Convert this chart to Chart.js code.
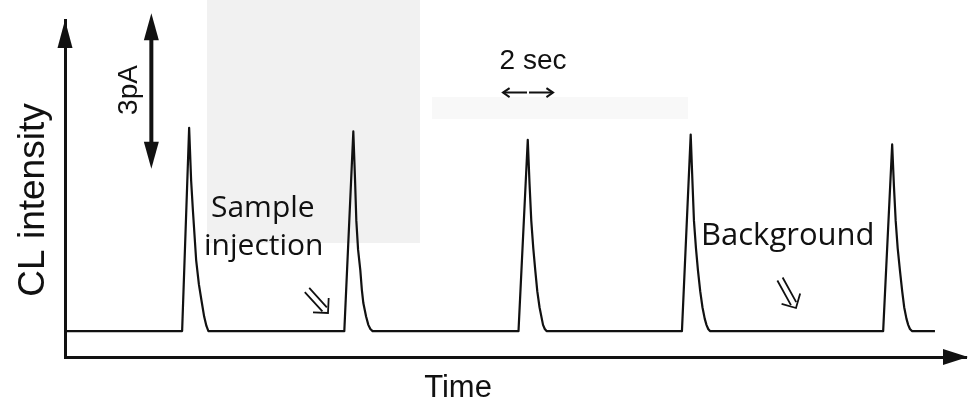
<!DOCTYPE html>
<html>
<head>
<meta charset="utf-8">
<script src="https://cdn.jsdelivr.net/npm/chart.js@4/dist/chart.umd.min.js"></script>
<style>
  html, body { margin: 0; padding: 0; background: #fff; }
  #wrap { width: 969px; height: 408px; position: relative; }
</style>
</head>
<body>
<div id="wrap"><canvas id="clChart"></canvas></div>
<script>
// Trace: time (sec) and CL intensity (pA)
const traceTime = [0.05, 4.68, 4.96, 5.04, 5.11, 5.24, 5.35, 5.45, 5.56, 5.65, 5.73,
  11.16, 11.52, 11.59, 11.64, 11.71, 11.80, 11.86, 11.92, 12.03, 12.12, 12.20, 12.29,
  18.12, 18.49, 18.56, 18.63, 18.71, 18.79, 18.87, 18.96, 19.05, 19.10, 19.17, 19.24,
  24.65, 25.00, 25.07, 25.13, 25.21, 25.29, 25.38, 25.47, 25.56, 25.63, 25.70, 25.77,
  32.69, 33.05, 33.12, 33.19, 33.27, 33.36, 33.45, 33.53, 33.62, 33.69, 33.76, 33.84, 34.76];
const traceCL = [0.5, 0.5, 4.42, 3.40, 2.83, 1.87, 1.40, 1.10, 0.78, 0.60, 0.5,
  0.5, 4.35, 3.40, 2.63, 2.07, 1.67, 1.30, 1.04, 0.78, 0.62, 0.54, 0.5,
  0.5, 4.19, 3.35, 2.63, 2.10, 1.67, 1.27, 0.96, 0.74, 0.62, 0.54, 0.5,
  0.5, 4.29, 3.38, 2.63, 2.10, 1.67, 1.27, 0.96, 0.74, 0.62, 0.54, 0.5,
  0.5, 4.10, 3.30, 2.63, 2.10, 1.67, 1.27, 0.96, 0.74, 0.62, 0.54, 0.5, 0.5];

// Scale markers (sec / pA)
const timeBar = [17.5, 19.5];       // "2 sec"
const currentBar = [3.63, 6.63];    // "3pA"
const currentBarTime = 3.45;
const timeBarLevel = 5.1;

// Text
const axisTitles = ['Time', 'CL intensity'];
const timeBarLabel = '2 sec';
const currentBarLabel = '3pA';
const sampleLabel = ['Sample', 'injection'];
const backgroundLabel = 'Background';

const INK = '#111';

function filledHead(ctx, tipX, tipY, dx, dy, len, half) {
  // dx,dy: unit vector pointing toward the tip
  const bx = tipX - dx * len, by = tipY - dy * len;
  ctx.beginPath();
  ctx.moveTo(tipX, tipY);
  ctx.lineTo(bx - dy * half, by + dx * half);
  ctx.lineTo(bx + dy * half, by - dx * half);
  ctx.closePath();
  ctx.fill();
}

function openHead(ctx, tipX, tipY, dx, dy, len, angle) {
  const a = Math.atan2(dy, dx) + Math.PI;
  ctx.beginPath();
  ctx.moveTo(tipX + Math.cos(a - angle) * len, tipY + Math.sin(a - angle) * len);
  ctx.lineTo(tipX, tipY);
  ctx.lineTo(tipX + Math.cos(a + angle) * len, tipY + Math.sin(a + angle) * len);
  ctx.stroke();
}

// Hollow double-shaft arrow, like the ⇘ marks in the figure
function doubleArrow(ctx, x1, y1, x2, y2) {
  const L = Math.hypot(x2 - x1, y2 - y1);
  const dx = (x2 - x1) / L, dy = (y2 - y1) / L;
  const nx = -dy * 3, ny = dx * 3;
  ctx.lineWidth = 1.8;
  ctx.beginPath();
  ctx.moveTo(x1 + nx, y1 + ny); ctx.lineTo(x2 - dx * 5 + nx, y2 - dy * 5 + ny);
  ctx.moveTo(x1 - nx, y1 - ny); ctx.lineTo(x2 - dx * 5 - nx, y2 - dy * 5 - ny);
  ctx.stroke();
  openHead(ctx, x2, y2, dx, dy, 15, Math.PI / 4);
}

// Scan shading behind the plot
const paperPlugin = {
  id: 'paper',
  beforeDraw(chart) {
    const ctx = chart.ctx;
    ctx.save();
    ctx.fillStyle = '#f1f1f1';
    ctx.fillRect(207, 0, 213, 243);
    ctx.fillStyle = '#f8f8f8';
    ctx.fillRect(432, 97, 256, 22);
    ctx.restore();
  },
};

// Axis arrows, scale bars and labels
const markupPlugin = {
  id: 'markup',
  afterDraw(chart) {
    const { ctx, chartArea } = chart;
    const x = chart.scales.x, y = chart.scales.y;
    ctx.save();
    ctx.fillStyle = INK;
    ctx.strokeStyle = INK;

    // axis arrowheads
    filledHead(ctx, chartArea.left, chartArea.top, 0, -1, 28, 7.5);
    filledHead(ctx, chartArea.right + 2, chartArea.bottom, 1, 0, 25, 8);

    // 3pA bar
    const bx = x.getPixelForValue(currentBarTime);
    const bTop = y.getPixelForValue(currentBar[1]);
    const bBot = y.getPixelForValue(currentBar[0]);
    ctx.lineWidth = 4;
    ctx.beginPath();
    ctx.moveTo(bx, bTop + 20);
    ctx.lineTo(bx, bBot - 20);
    ctx.stroke();
    filledHead(ctx, bx, bTop, 0, -1, 27, 7.5);
    filledHead(ctx, bx, bBot, 0, 1, 27, 7.5);

    ctx.save();
    ctx.translate(bx - 14, (bTop + bBot) / 2 - 1);
    ctx.rotate(-Math.PI / 2);
    ctx.font = '28px "Liberation Sans", Arial, sans-serif';
    ctx.textAlign = 'center';
    ctx.textBaseline = 'alphabetic';
    ctx.fillText(currentBarLabel, 0, 0);
    ctx.restore();

    // 2 sec bar
    const t0 = x.getPixelForValue(timeBar[0]);
    const t1 = x.getPixelForValue(timeBar[1]);
    const ty = y.getPixelForValue(timeBarLevel);
    const tm = (t0 + t1) / 2;
    ctx.lineWidth = 2;
    ctx.beginPath();
    ctx.moveTo(t0, ty); ctx.lineTo(tm - 1, ty);
    ctx.moveTo(tm + 1, ty); ctx.lineTo(t1, ty);
    ctx.stroke();
    openHead(ctx, t0, ty, -1, 0, 8, 0.6);
    openHead(ctx, t1, ty, 1, 0, 8, 0.6);
    ctx.font = '28px "Liberation Sans", Arial, sans-serif';
    ctx.textAlign = 'center';
    ctx.fillText(timeBarLabel, tm + 5, 69);

    // annotations
    ctx.font = '30px "Open Sans", "Noto Sans", sans-serif';
    ctx.textAlign = 'left';
    ctx.fillText(sampleLabel[0], 211, 217);
    ctx.fillText(sampleLabel[1], 204, 255);
    ctx.font = '31px "Open Sans", "Noto Sans", sans-serif';
    ctx.fillText(backgroundLabel, 701, 245);
    doubleArrow(ctx, 307, 290, 328, 313);
    doubleArrow(ctx, 780, 279, 796, 308);

    // axis titles
    ctx.font = '31px "Liberation Sans", Arial, sans-serif';
    ctx.textAlign = 'center';
    ctx.fillText(axisTitles[0], 458, 397);
    ctx.save();
    ctx.translate(44, 200);
    ctx.rotate(-Math.PI / 2);
    ctx.font = '37px "Liberation Sans", Arial, sans-serif';
    ctx.fillText(axisTitles[1], 0, 0);
    ctx.restore();

    ctx.restore();
  },
};

function initCLChart() {
  const canvas = document.getElementById('clChart');
  if (!canvas) return;
  const ctx = canvas.getContext('2d');

  // eslint-disable-next-line no-undef
  new Chart(ctx, {
    type: 'line',
    data: {
      datasets: [
        {
          label: 'CL intensity',
          data: traceTime.map((t, i) => ({ x: t, y: traceCL[i] })),
          borderColor: INK,
          borderWidth: 2.2,
          borderJoinStyle: 'round',
          pointRadius: 0,
          tension: 0,
          fill: false,
        },
      ],
    },
    options: {
      responsive: true,
      maintainAspectRatio: false,
      animation: false,
      layout: { padding: { left: 65, top: 20, right: 3, bottom: 51 } },
      plugins: {
        legend: { display: false },
        tooltip: { enabled: false },
      },
      scales: {
        x: {
          type: 'linear',
          min: 0,
          max: 36,
          grid: { display: false, drawTicks: false },
          border: { display: true, color: INK, width: 3 },
          ticks: { display: false },
        },
        y: {
          min: 0,
          max: 6.5,
          grid: { display: false, drawTicks: false },
          border: { display: true, color: INK, width: 3 },
          ticks: { display: false },
        },
      },
    },
    plugins: [paperPlugin, markupPlugin],
  });
}

document.addEventListener('DOMContentLoaded', initCLChart);
</script>
</body>
</html>
